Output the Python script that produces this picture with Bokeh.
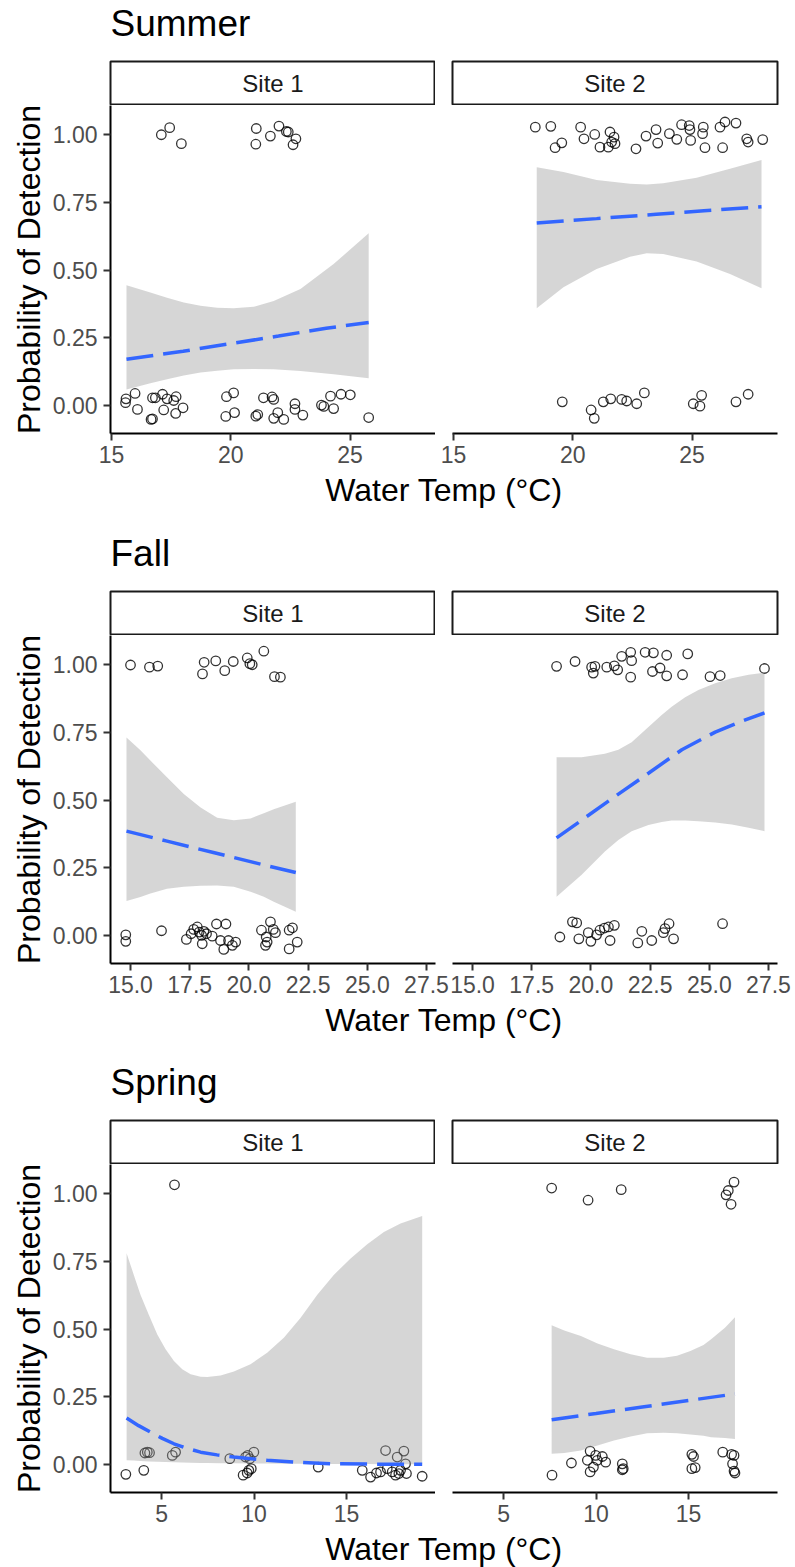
from bokeh.plotting import figure
from bokeh.models import Range1d, FixedTicker, PrintfTickFormatter
from bokeh.layouts import column, row
from bokeh.embed import file_html
from bokeh.resources import INLINE
from bokeh.core.properties import value

# ---------------- data ----------------
season_titles = ["Summer", "Fall", "Spring"]
site_labels = ["Site 1", "Site 2"]
x_title = "Water Temp (°C)"
y_title = "Probability of Detection"

y_ticks = [0, 0.25, 0.5, 0.75, 1]
y_tick_labels = ["0.00", "0.25", "0.50", "0.75", "1.00"]

summer_ticks = [15, 20, 25]
summer_tick_labels = ["15", "20", "25"]
fall_ticks = [15, 17.5, 20, 22.5, 25, 27.5]
fall_tick_labels = ["15.0", "17.5", "20.0", "22.5", "25.0", "27.5"]
spring_ticks = [5, 10, 15]
spring_tick_labels = ["5", "10", "15"]

summer_xlim = (14.96, 28.58)
fall_xlim = (14.155, 27.88)
spring_xlim = (2.24, 19.81)
ylim = (-0.104, 1.108)

# Summer, Site 1 (jittered observations)
summer_s1_x = [17.09, 17.44, 17.93, 21.07, 21.05, 21.66, 22.02, 22.33, 22.41, 22.73, 22.61,
               15.61, 15.59, 15.99, 16.09, 16.72, 16.84, 16.66, 16.72, 17.14, 17.19, 17.33, 17.61,
               17.71, 17.69, 18.00, 19.82, 20.12, 19.79, 20.16, 21.05, 21.13, 21.37, 21.73, 21.80,
               21.97, 21.80, 22.22, 22.69, 22.69, 23.02, 23.80, 23.90, 24.18, 24.31, 24.62, 25.01, 25.78]
summer_s1_y = [1.000, 1.026, 0.967, 1.023, 0.965, 0.995, 1.032, 1.012, 1.010, 0.985, 0.963,
               0.024, 0.010, 0.044, -0.015, 0.028, 0.028, -0.052, -0.050, 0.041, -0.017, 0.024, 0.018,
               0.032, -0.030, -0.009, 0.032, 0.046, -0.041, -0.027, -0.040, -0.034, 0.028, 0.031, 0.022,
               -0.027, -0.048, -0.052, 0.006, -0.015, -0.036, 0.001, -0.004, 0.034, -0.012, 0.041, 0.039, -0.045]
summer_s1_fit_x = [15.63, 18.0, 20.0, 22.0, 24.0, 25.78]
summer_s1_fit_y = [0.170, 0.200, 0.228, 0.256, 0.285, 0.306]
summer_s1_band_x = [15.63, 16.63, 17.33, 18.03, 18.73, 19.43, 20.12, 20.96, 21.80, 22.92, 24.31, 25.78]
summer_s1_band_lo = [0.059, 0.082, 0.096, 0.110, 0.121, 0.128, 0.133, 0.134, 0.133, 0.127, 0.115, 0.100]
summer_s1_band_hi = [0.444, 0.417, 0.398, 0.380, 0.368, 0.361, 0.359, 0.364, 0.386, 0.430, 0.522, 0.636]

# Summer, Site 2
summer_s2_x = [18.43, 19.08, 19.26, 19.54, 20.33, 20.47, 20.92, 21.14, 21.56, 21.73, 21.63, 21.49, 21.77,
               22.65, 23.07, 23.49, 23.56, 24.05, 24.36, 24.56, 24.88, 24.94, 24.91, 25.47, 25.44, 25.54,
               26.17, 26.38, 26.84, 26.28, 27.29, 27.35, 27.96,
               19.56, 20.77, 20.90, 21.28, 21.59, 22.05, 22.26, 22.68, 23.00, 25.05, 25.33, 25.40, 26.84, 27.35]
summer_s2_y = [1.028, 1.031, 0.952, 0.970, 1.028, 0.985, 1.001, 0.954, 1.010, 0.991, 0.973, 0.954, 0.967,
               0.948, 0.995, 1.019, 0.969, 1.004, 0.983, 1.037, 1.034, 0.979, 1.019, 1.028, 1.004, 0.952,
               1.028, 1.047, 1.043, 0.952, 0.985, 0.973, 0.982,
               0.013, -0.017, -0.048, 0.013, 0.024, 0.022, 0.016, 0.006, 0.046, 0.006, -0.003, 0.037, 0.013, 0.041]
summer_s2_fit_x = [18.49, 21.0, 23.5, 25.5, 27.91]
summer_s2_fit_y = [0.674, 0.690, 0.706, 0.719, 0.734]
summer_s2_band_x = [18.49, 19.61, 21.00, 22.40, 23.10, 23.79, 25.19, 26.59, 27.91]
summer_s2_band_lo = [0.359, 0.436, 0.504, 0.549, 0.562, 0.559, 0.532, 0.485, 0.433]
summer_s2_band_hi = [0.880, 0.862, 0.833, 0.819, 0.816, 0.821, 0.841, 0.874, 0.907]

# Fall, Site 1
fall_s1_x = [15.00, 15.80, 16.15, 18.04, 18.11, 18.60, 18.98, 19.34, 19.93, 20.04, 20.14, 20.63, 21.08, 21.33,
             14.80, 14.80, 16.31, 17.36, 17.56, 17.67, 17.82, 17.90, 18.00, 18.03, 18.10, 18.21, 18.45,
             18.63, 18.80, 18.94, 19.03, 19.14, 19.30, 19.44, 20.53, 20.73, 20.77, 20.70, 20.91, 21.03,
             21.12, 21.70, 21.84, 21.70, 22.04]
fall_s1_y = [0.999, 0.991, 0.995, 0.966, 1.009, 1.014, 0.978, 1.012, 1.025, 1.004, 1.000, 1.050, 0.956, 0.954,
             0.002, -0.022, 0.017, -0.015, 0.006, 0.022, 0.031, 0.012, 0.000, -0.031, 0.015, 0.006, -0.003,
             0.042, -0.019, -0.052, 0.042, -0.019, -0.037, -0.025, 0.019, -0.006, -0.025, -0.037, 0.050, 0.022,
             0.010, 0.019, 0.028, -0.050, -0.025]
fall_s1_fit_x = [14.83, 16.5, 18.5, 20.5, 21.98]
fall_s1_fit_y = [0.385, 0.349, 0.306, 0.263, 0.232]
fall_s1_band_x = [14.83, 15.42, 15.84, 16.54, 17.25, 17.96, 18.66, 19.36, 20.07, 20.63, 21.05, 21.98]
fall_s1_band_lo = [0.127, 0.142, 0.155, 0.172, 0.180, 0.183, 0.184, 0.180, 0.161, 0.143, 0.124, 0.087]
fall_s1_band_hi = [0.731, 0.684, 0.646, 0.584, 0.522, 0.472, 0.435, 0.425, 0.432, 0.451, 0.466, 0.494]

# Fall, Site 2
fall_s2_x = [18.55, 19.33, 20.03, 20.10, 20.17, 20.67, 20.99, 21.13, 21.30, 21.68, 21.72, 21.68, 22.29,
             22.64, 22.60, 22.92, 23.20, 23.20, 23.87, 24.09, 25.03, 25.46, 27.33,
             18.69, 19.22, 19.40, 19.49, 19.89, 20.00, 20.24, 20.38, 20.57, 20.74, 20.99, 20.81, 21.98,
             22.15, 22.57, 23.06, 23.13, 23.30, 23.49, 25.56]
fall_s2_y = [0.994, 1.012, 0.991, 0.969, 0.994, 0.991, 0.996, 0.981, 1.031, 1.046, 1.015, 0.954, 1.046,
             1.044, 0.975, 0.988, 1.035, 0.959, 0.963, 1.040, 0.956, 0.960, 0.986,
             -0.006, 0.050, 0.046, -0.013, 0.010, -0.022, 0.002, 0.019, 0.027, 0.031, 0.037, -0.019, -0.028,
             0.015, -0.019, 0.010, 0.025, 0.043, -0.013, 0.043]
fall_s2_fit_x = [18.55, 21.16, 22.43, 23.84, 25.25, 26.30, 27.33]
fall_s2_fit_y = [0.360, 0.522, 0.599, 0.686, 0.751, 0.789, 0.822]
fall_s2_band_x = [18.55, 19.61, 20.59, 21.16, 21.72, 22.43, 22.99, 23.41, 23.98, 24.54, 25.25, 25.95, 26.66, 27.33]
fall_s2_band_lo = [0.143, 0.224, 0.310, 0.352, 0.385, 0.408, 0.419, 0.424, 0.424, 0.422, 0.417, 0.410, 0.398, 0.385]
fall_s2_band_hi = [0.658, 0.658, 0.671, 0.686, 0.714, 0.770, 0.814, 0.845, 0.880, 0.907, 0.932, 0.950, 0.963, 0.971]

# Spring, Site 1
spring_s1_x = [5.70,
               3.07, 4.04, 4.10, 4.23, 4.35, 5.58, 5.76, 8.69, 9.41, 9.54, 9.63, 9.72, 9.77, 9.85, 9.99, 9.66,
               13.47, 15.85, 16.30, 16.62, 16.84, 17.11, 17.20, 17.47, 17.65, 17.74, 17.83, 17.92, 18.10,
               18.19, 18.24, 19.09]
spring_s1_y = [1.033,
               -0.037, -0.022, 0.042, 0.045, 0.043, 0.033, 0.045, 0.021, -0.040, 0.027, -0.032, -0.022, 0.021,
               -0.016, 0.045, 0.033, -0.010, -0.022, -0.047, -0.032, -0.028, 0.051, -0.016, -0.028, -0.040,
               0.027, -0.034, -0.022, 0.049, 0.002, -0.034, -0.044]
spring_s1_fit_x = [3.11, 3.76, 4.41, 5.04, 5.67, 6.39, 7.11, 8.00, 8.91, 10.71, 12.51, 14.31, 16.12, 19.09]
spring_s1_fit_y = [0.171, 0.143, 0.119, 0.096, 0.076, 0.059, 0.045, 0.035, 0.027, 0.015, 0.007, 0.002, 0.001, 0.000]
spring_s1_band_x = [3.11, 3.50, 3.86, 4.31, 4.77, 5.22, 5.67, 6.12, 6.57, 7.11, 7.47, 8.19, 8.91, 9.81,
                    10.71, 11.61, 12.51, 13.42, 14.31, 15.22, 16.12, 17.02, 17.92, 19.09]
spring_s1_band_lo = [0.015, 0.014, 0.012, 0.011, 0.010, 0.009, 0.008, 0.007, 0.006, 0.005, 0.005, 0.004,
                     0.004, 0.003, 0.003, 0.002, 0.002, 0.001, 0.001, 0.001, 0.001, 0.000, 0.000, 0.000]
spring_s1_band_hi = [0.780, 0.700, 0.627, 0.553, 0.480, 0.425, 0.382, 0.351, 0.333, 0.324, 0.323, 0.328,
                     0.343, 0.370, 0.412, 0.468, 0.541, 0.627, 0.700, 0.761, 0.813, 0.859, 0.890, 0.918]

# Spring, Site 2
spring_s2_x = [7.60, 9.57, 11.36, 17.03, 17.15, 17.30, 17.46,
               7.62, 8.67, 9.68, 9.53, 9.68, 9.86, 9.98, 10.07, 10.34, 10.52, 11.42, 11.47, 11.42,
               15.18, 15.27, 15.18, 15.36, 16.85, 17.33, 17.46, 17.38, 17.46, 17.51]
spring_s2_y = [1.021, 0.976, 1.015, 0.996, 1.012, 0.961, 1.043,
               -0.040, 0.005, 0.049, 0.015, -0.028, -0.010, 0.033, 0.015, 0.029, 0.008, 0.002, -0.016, -0.020,
               0.037, 0.029, -0.016, -0.012, 0.045, 0.037, 0.033, 0.002, -0.025, -0.032]
spring_s2_fit_x = [7.60, 10.0, 12.5, 15.0, 17.51]
spring_s2_fit_y = [0.165, 0.188, 0.212, 0.236, 0.260]
spring_s2_band_x = [7.60, 8.28, 9.18, 10.08, 10.97, 11.87, 12.76, 13.66, 14.38, 15.10, 15.81, 16.22, 16.97, 17.51]
spring_s2_band_lo = [0.039, 0.042, 0.051, 0.070, 0.088, 0.103, 0.115, 0.117, 0.115, 0.110, 0.106, 0.100, 0.097, 0.094]
spring_s2_band_hi = [0.514, 0.495, 0.474, 0.447, 0.425, 0.407, 0.394, 0.394, 0.401, 0.419, 0.441, 0.462, 0.505, 0.544]

# ---------------- layout / style ----------------
FONT = "Liberation Sans"
W = 795
PANEL_L = 110
PANEL_W = 325
RIGHT = 18
TITLE_H = 60
STRIP_H = 45
PANEL_FH = 328
PANEL_BB = 40
ROW_H = [530, 529, 508]


def base_fig(**kw):
    return figure(output_backend="svg", toolbar_location=None, title=None, **kw)


def make_title(text):
    p = base_fig(frame_width=W, frame_height=TITLE_H, min_border=0,
                 x_range=Range1d(0, W), y_range=Range1d(TITLE_H, 0),
                 x_axis_location=None, y_axis_location=None)
    p.outline_line_color = None
    p.grid.visible = False
    p.text(x=[PANEL_L], y=[22.5], text=[text], text_font=value(FONT), text_font_size="37px",
           text_align="left", text_baseline="middle", text_color="black")
    return p


def make_strip(label, left, right):
    p = base_fig(frame_width=PANEL_W, frame_height=STRIP_H - 2,
                 min_border_left=left, min_border_right=right, min_border_top=1, min_border_bottom=1,
                 x_range=Range1d(0, 1), y_range=Range1d(0, 1),
                 x_axis_location=None, y_axis_location=None)
    p.outline_line_color = "#1A1A1A"
    p.outline_line_width = 2
    p.grid.visible = False
    p.text(x=[0.5], y=[0.5], text=[label], text_font=value(FONT), text_font_size="24px",
           text_align="center", text_baseline="middle", text_color="#1A1A1A")
    return p


def make_xlab(h):
    p = base_fig(frame_width=W, frame_height=h, min_border=0,
                 x_range=Range1d(0, W), y_range=Range1d(h, 0),
                 x_axis_location=None, y_axis_location=None)
    p.outline_line_color = None
    p.grid.visible = False
    p.text(x=[(PANEL_L + W - RIGHT) / 2], y=[16.5], text=[x_title], text_font=value(FONT),
           text_font_size="32px", text_align="center", text_baseline="middle", text_color="black")
    return p


def style_axis(ax, standoff):
    ax.axis_line_color = "black"
    ax.axis_line_width = 2
    ax.major_tick_line_color = "#333333"
    ax.major_tick_line_width = 2
    ax.major_tick_out = 7
    ax.major_tick_in = 0
    ax.minor_tick_line_color = None
    ax.major_label_text_font = FONT
    ax.major_label_text_font_size = "23px"
    ax.major_label_text_color = "#4D4D4D"
    ax.major_label_standoff = standoff


def make_panel(xs, ys, fx, fy, bx, blo, bhi, xlim, ticks, tick_labels, fmt, left, right, show_y):
    p = base_fig(frame_width=PANEL_W, frame_height=PANEL_FH,
                 min_border_left=left, min_border_right=right,
                 min_border_top=0, min_border_bottom=PANEL_BB,
                 x_range=Range1d(*xlim), y_range=Range1d(*ylim),
                 y_axis_location="left" if show_y else None)
    p.outline_line_color = None
    p.grid.visible = False
    p.background_fill_color = "white"
    p.border_fill_color = "white"

    xa = p.xaxis[0]
    xa.ticker = FixedTicker(ticks=ticks)
    xa.formatter = PrintfTickFormatter(format=fmt)
    xa.major_label_overrides = dict(zip(ticks, tick_labels))
    style_axis(xa, 5)

    if show_y:
        ya = p.yaxis[0]
        ya.ticker = FixedTicker(ticks=y_ticks)
        ya.formatter = PrintfTickFormatter(format="%.2f")
        ya.major_label_overrides = dict(zip(y_ticks, y_tick_labels))
        style_axis(ya, 6)
        ya.axis_label = y_title
        ya.axis_label_text_font = FONT
        ya.axis_label_text_font_size = "32px"
        ya.axis_label_text_font_style = "normal"
        ya.axis_label_text_color = "black"
        ya.axis_label_standoff = 3

    p.scatter(x=xs, y=ys, marker="circle", size=9.5, fill_color=None,
              line_color="black", line_width=1.3, line_alpha=0.8)
    p.varea(x=bx, y1=blo, y2=bhi, fill_color="#999999", fill_alpha=0.4)
    p.line(x=fx, y=fy, line_color="#3366FF", line_width=3.5, line_dash="27 10")
    return p


seasons = [
    dict(title=season_titles[0], xlim=summer_xlim, ticks=summer_ticks, labels=summer_tick_labels, fmt="%d",
         split=(0, 17),
         s1=(summer_s1_x, summer_s1_y, summer_s1_fit_x, summer_s1_fit_y, summer_s1_band_x, summer_s1_band_lo, summer_s1_band_hi),
         s2=(summer_s2_x, summer_s2_y, summer_s2_fit_x, summer_s2_fit_y, summer_s2_band_x, summer_s2_band_lo, summer_s2_band_hi)),
    dict(title=season_titles[1], xlim=fall_xlim, ticks=fall_ticks, labels=fall_tick_labels, fmt="%.1f",
         split=(14, 3),
         s1=(fall_s1_x, fall_s1_y, fall_s1_fit_x, fall_s1_fit_y, fall_s1_band_x, fall_s1_band_lo, fall_s1_band_hi),
         s2=(fall_s2_x, fall_s2_y, fall_s2_fit_x, fall_s2_fit_y, fall_s2_band_x, fall_s2_band_lo, fall_s2_band_hi)),
    dict(title=season_titles[2], xlim=spring_xlim, ticks=spring_ticks, labels=spring_tick_labels, fmt="%d",
         split=(0, 17),
         s1=(spring_s1_x, spring_s1_y, spring_s1_fit_x, spring_s1_fit_y, spring_s1_band_x, spring_s1_band_lo, spring_s1_band_hi),
         s2=(spring_s2_x, spring_s2_y, spring_s2_fit_x, spring_s2_fit_y, spring_s2_band_x, spring_s2_band_lo, spring_s2_band_hi)),
]

children = []
for i, s in enumerate(seasons):
    rA, lB = s["split"]
    children.append(make_title(s["title"]))
    children.append(row(make_strip(site_labels[0], PANEL_L, 0),
                        make_strip(site_labels[1], 17, RIGHT)))
    pA = make_panel(*s["s1"], s["xlim"], s["ticks"], s["labels"], s["fmt"], PANEL_L, rA, True)
    pB = make_panel(*s["s2"], s["xlim"], s["ticks"], s["labels"], s["fmt"], lB, RIGHT, False)
    children.append(row(pA, pB))
    children.append(make_xlab(ROW_H[i] - TITLE_H - STRIP_H - PANEL_FH - PANEL_BB))

layout = column(*children)
open("out.html", "w").write(file_html(layout, INLINE))
